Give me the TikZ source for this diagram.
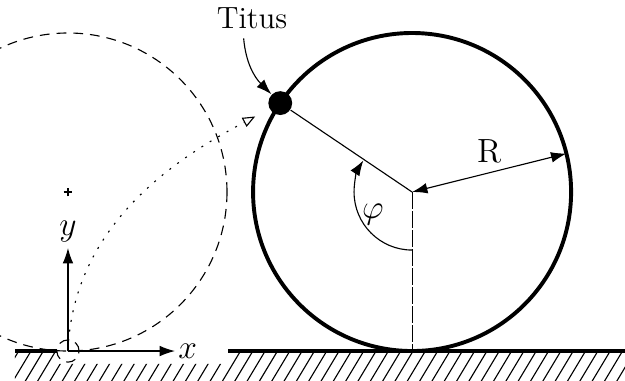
\documentclass[tikz,border=0pt]{standalone}
\usetikzlibrary{arrows.meta, positioning}
\tikzset{
  every picture/.style={line width=0.4pt},
  wheel/.style={line width=1.4pt},
  ground/.style={line width=1.6pt},
  hatch/.style={line width=0.4pt},
  arrow/.style={-{Latex[length=5.5pt, width=3.8pt]}},
  dbl/.style={{Latex[length=5.5pt, width=3.8pt]}-{Latex[length=5.5pt, width=3.8pt]}},
  trace/.style={dash pattern=on 0.7pt off 2.8pt, -{Triangle[open, length=4.5pt, width=3.6pt]}, shorten >=0.2cm},
  ball/.style={circle, fill=black, inner sep=0pt, minimum size=0.3cm},
  ghost/.style={dash pattern=on 3.5pt off 2.5pt},
  axisline/.style={dash pattern=on 6pt off 0.8pt},
}

\begin{document}
\begin{tikzpicture}
  \clip (-0.855,-0.365) rectangle (7.006,4.415);
  % ground
  \begin{scope}
    \clip (-0.667,-0.5) rectangle (-0.138,0) (-0.138,-0.5) rectangle (2.013,-0.16) (2.013,-0.5) rectangle (7.1,0);
    \foreach \i in {-4,...,48} \draw[hatch] (\i*0.155,0) -- ++(-0.27,-0.45);
  \end{scope}
  \draw[ground] (-0.667,0) -- (-0.138,0);
  \draw[ground] (2.013,0) -- (7.1,0);
  % start position
  \coordinate (O) at (0,0);
  \coordinate (C0) at (0,2);
  \draw[ghost] (C0) circle (2);
  \draw[ghost] (O) circle (0.14);
  \draw (C0) ++(-0.055,0) -- ++(0.11,0) (C0) ++(0,-0.055) -- ++(0,0.11);
  % axes
  \coordinate (xe) at (1.346,0);
  \coordinate (ye) at (0,1.296);
  \draw[arrow] (O) -- (xe) node[right, inner sep=1pt] (xl) {\large $x$};
  \draw[arrow] (O) -- (ye) node[above, inner sep=2pt] (yl) {\large $y$};
  % wheel
  \coordinate (C) at (4.328,2);
  \coordinate (Q) at (4.328,0);
  \draw[wheel] (C) circle (2);
  \path (C) ++(146:2) node[ball] (titus) {};
  \path (C) ++(14:2) coordinate (Rend);
  \draw (C) -- (titus);
  \draw[axisline] (C) -- (Q);
  \draw[dbl] (C) -- (Rend) node[midway, above] (rl) {\large R};
  \draw[arrow] (C) ++(270:0.73) arc[start angle=270, end angle=147, radius=0.73];
  \path (C) ++(210:0.57) node (phi) {\large $\varphi$};
  % trace
  \draw[trace] (O) .. controls (0.063,1.635) and (1.447,2.466) .. (titus);
  % name
  \node[font=\fontsize{11}{13}\selectfont] (name) at (2.315,4.189) {Titus};
  \draw[arrow] ([xshift=-3pt]name.south) to[out=-85, in=135] (titus);
\end{tikzpicture}
\end{document}
